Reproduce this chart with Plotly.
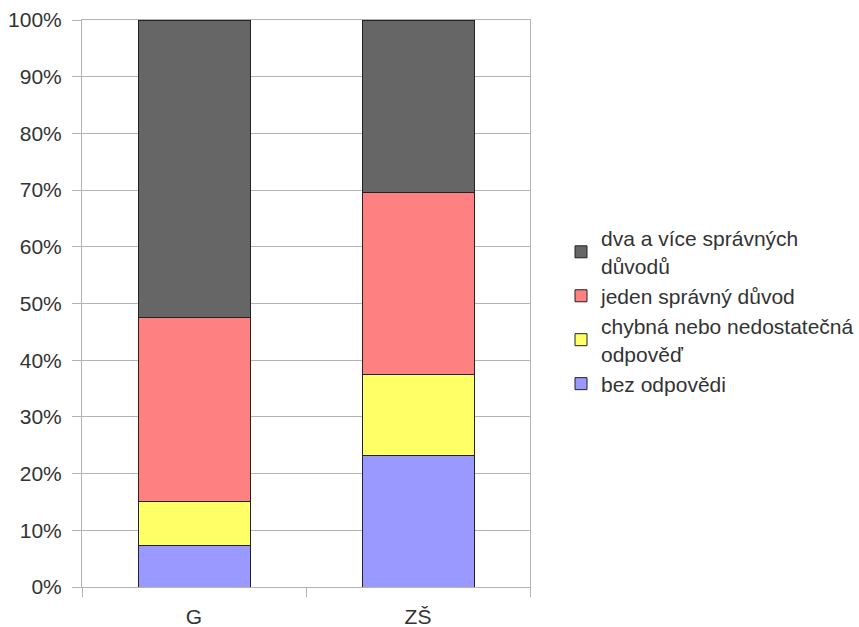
import plotly.graph_objects as go

# Survey results per school type, shares in percent
categories = ["G", "ZŠ"]
series_names = [
    "bez odpovědi",
    "chybná nebo nedostatečná<br>odpověď",
    "jeden správný důvod",
    "dva a více správných<br>důvodů",
]
bez_odpovedi = [7.3, 23.2]
chybna = [7.8, 14.2]
jeden = [32.5, 32.1]
dva_a_vice = [52.4, 30.5]
series_values = [bez_odpovedi, chybna, jeden, dva_a_vice]
colors = ["#9999ff", "#ffff66", "#ff8080", "#666666"]
legend_ranks = [4, 3, 2, 1]
y_ticks = list(range(0, 101, 10))
y_tick_labels = [f"{v}%" for v in y_ticks]

FONT = "Liberation Sans, Arial, sans-serif"
TEXT = "#333333"
GRID = "#b3b3b3"
SIZE = 21

fig = go.Figure()
for name, vals, col, rank in zip(series_names, series_values, colors, legend_ranks):
    fig.add_trace(go.Bar(
        x=categories, y=vals, name=name, legendgroup=name, legendrank=rank,
        marker=dict(color=col, line=dict(color="#222222", width=1)),
    ))

fig.update_layout(
    width=859, height=627,
    margin=dict(l=82, r=329, t=20, b=40, autoexpand=False),
    barmode="stack", bargap=0.5,
    paper_bgcolor="white", plot_bgcolor="white",
    font=dict(family=FONT, size=SIZE, color=TEXT),
    legend=dict(
        traceorder="grouped", tracegroupgap=0,
        xref="container", yref="container",
        x=561 / 859, y=1 - 218 / 627, xanchor="left", yanchor="top",
        font=dict(family=FONT, size=SIZE, color=TEXT),
        itemwidth=30,
    ),
    showlegend=True,
)
fig.update_xaxes(
    type="category", tickson="boundaries", ticks="outside", ticklen=9,
    tickcolor=GRID, showgrid=False, showline=True, linecolor=GRID,
    mirror=True, ticklabelstandoff=11, automargin=False,
    tickfont=dict(family=FONT, size=SIZE, color=TEXT),
)
fig.update_yaxes(
    range=[0, 100], tickvals=y_ticks, ticktext=y_tick_labels,
    ticks="outside", ticklen=9, tickcolor=GRID,
    showgrid=True, gridcolor=GRID, showline=True, linecolor=GRID,
    mirror=True, zeroline=False, ticklabelstandoff=6, automargin=False,
    tickfont=dict(family=FONT, size=SIZE, color=TEXT),
)

fig.write_html("out.html")
